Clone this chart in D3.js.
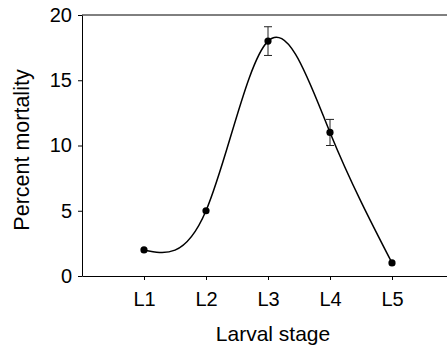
<!DOCTYPE html>
<html>
<head>
<meta charset="utf-8">
<script src="https://cdn.jsdelivr.net/npm/d3@7"></script>
<style>
  body { margin: 0; background: #fff; }
  svg { font-family: "Liberation Sans", Arial, sans-serif; }
</style>
</head>
<body>
<div id="chart"></div>
<script>
// data
const stages = ["L1", "L2", "L3", "L4", "L5"]
const mortality = [2, 5, 18, 11, 1]
const errors = [0, 0, 1.1, 1, 0]
const yTicks = [0, 5, 10, 15, 20]

const width = 447
const height = 349
const margin = { left: 82, top: 15, bottom: 73 }

const svg = d3.select('#chart').append('svg')
  .attr('width', width).attr('height', height)

// stages sit at 1..5, plot area runs 0..6 (cut off at the right edge)
const xScale = d3.scaleLinear().domain([0, 6]).range([margin.left, 454])
const yScale = d3.scaleLinear().domain([0, 20]).range([height - margin.bottom, margin.top])

const pts = stages.map((s, i) => ({ stage: s, x: i + 1, y: mortality[i], e: errors[i] }))

// frame top line
svg.append('line')
  .attr('x1', margin.left).attr('x2', 454)
  .attr('y1', yScale(20)).attr('y2', yScale(20))
  .attr('stroke', '#000').attr('stroke-width', 1)

// axes
const xAxis = d3.axisBottom(xScale)
  .tickValues(d3.range(1, 6)).tickFormat(d => stages[d - 1])
  .tickSizeInner(4).tickSizeOuter(0).tickPadding(12)
const yAxis = d3.axisLeft(yScale)
  .tickValues(yTicks).tickSizeInner(4).tickSizeOuter(0).tickPadding(6)

svg.append('g')
  .attr('transform', 'translate(0,' + yScale(0) + ')')
  .call(xAxis)
svg.append('g')
  .attr('transform', 'translate(' + margin.left + ',0)')
  .call(yAxis)

svg.selectAll('.tick text').attr('font-size', 20).attr('fill', '#000')
  .attr('font-family', '"Liberation Sans", Arial, sans-serif')
svg.selectAll('.domain, .tick line').attr('stroke', '#000')

// smooth curve through the points
const line = d3.line()
  .x(d => xScale(d.x)).y(d => yScale(d.y))
  .curve(d3.curveNatural)
svg.append('path').datum(pts)
  .attr('d', line)
  .attr('fill', 'none').attr('stroke', '#000').attr('stroke-width', 1.5)

// error bars
const withErr = pts.filter(d => d.e > 0)
const bars = svg.selectAll('g.err').data(withErr).enter().append('g').attr('class', 'err')
  .attr('stroke', '#222').attr('stroke-width', 1)
bars.append('line')
  .attr('x1', d => xScale(d.x)).attr('x2', d => xScale(d.x))
  .attr('y1', d => yScale(d.y + d.e)).attr('y2', d => yScale(d.y - d.e))
bars.append('line')
  .attr('x1', d => xScale(d.x) - 4).attr('x2', d => xScale(d.x) + 4)
  .attr('y1', d => yScale(d.y + d.e)).attr('y2', d => yScale(d.y + d.e))
bars.append('line')
  .attr('x1', d => xScale(d.x) - 4).attr('x2', d => xScale(d.x) + 4)
  .attr('y1', d => yScale(d.y - d.e)).attr('y2', d => yScale(d.y - d.e))

// points
svg.selectAll('circle').data(pts).enter().append('circle')
  .attr('cx', d => xScale(d.x)).attr('cy', d => yScale(d.y))
  .attr('r', 3.6).attr('fill', '#000')

// titles
svg.append('text')
  .attr('x', 273).attr('y', 341)
  .attr('text-anchor', 'middle').attr('font-size', 21)
  .text('Larval stage')
svg.append('text')
  .attr('transform', 'translate(29,' + 150 + ') rotate(-90)')
  .attr('text-anchor', 'middle').attr('font-size', 21.5)
  .text('Percent mortality')
</script>
</body>
</html>
